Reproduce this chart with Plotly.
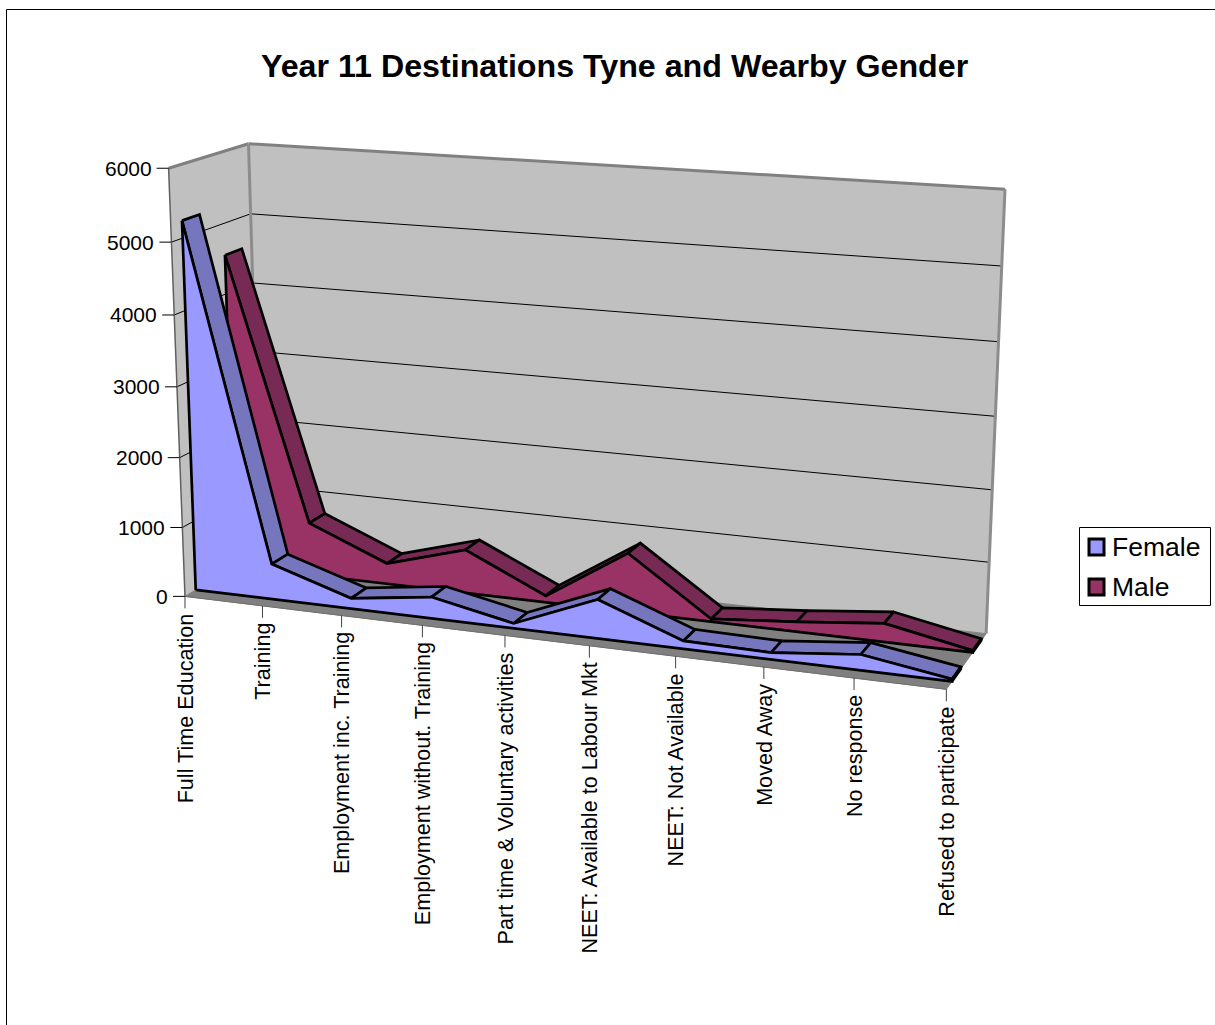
import numpy as np
import plotly.graph_objects as go

TITLE = "Year 11 Destinations Tyne and Wearby Gender"
categories = ["Full Time Education", "Training", "Employment inc. Training",
              "Employment without. Training", "Part time & Voluntary activities",
              "NEET: Available to Labour Mkt", "NEET: Not Available", "Moved Away",
              "No response", "Refused to participate"]
female = [5240, 510, 150, 305, 70, 545, 110, 95, 215, 30]
male = [4550, 770, 300, 630, 95, 840, 40, 140, 260, 25]
value_ticks = [0, 1000, 2000, 3000, 4000, 5000, 6000]
VMAX = 6000
FEMALE_DEPTH = (0.135, 0.35)
MALE_DEPTH = (0.65, 0.87)

# Projection of the chart box (category share, value share, depth) onto the page
box_ref = [
    (0, 0, 0, 186, 595), (0, 1, 0, 168, 170), (0, 1, 1, 249, 142), (0, 0, 1, 261, 556),
    (1, 1, 1, 1005, 190), (1, 0, 1, 986, 632), (1, 0, 0, 948, 691),
    (0, 5/6, 1, 251, 212), (1, 5/6, 1, 1002, 267), (1, 1/6, 1, 988, 560),
    (0, 5/6, 0, 171, 243), (0, 4/6, 0, 174, 315), (0, 3/6, 0, 177, 387),
    (0, 2/6, 0, 180, 457), (0, 1/6, 0, 183, 527),
    (1/9, 0, 0, 262, 604.6), (2/9, 0, 0, 341, 614.5), (3/9, 0, 0, 422, 624.7),
    (4/9, 0, 0, 504, 635), (5/9, 0, 0, 589, 645.6), (6/9, 0, 0, 675, 656.4),
    (7/9, 0, 0, 765, 667.7), (8/9, 0, 0, 854, 679),
]
A, b = [], []
for u, v, w, x, y in box_ref:
    A.append([u, v, w, 1, 0, 0, 0, 0, -x*u, -x*v, -x*w]); b.append(x)
    A.append([0, 0, 0, 0, u, v, w, 1, -y*u, -y*v, -y*w]); b.append(y)
P = np.append(np.linalg.lstsq(np.array(A, float), np.array(b, float), rcond=None)[0], 1).reshape(3, 4)


def proj(i, val, w):
    h = P @ np.array([i / 9, val / VMAX, w, 1.0])
    return h[0] / h[2], h[1] / h[2]


fig = go.Figure()


def poly(pts, fill, line="black", width=2.7):
    xs = [p[0] for p in pts] + [pts[0][0]]
    ys = [p[1] for p in pts] + [pts[0][1]]
    fig.add_trace(go.Scatter(x=xs, y=ys, mode="lines", fill="toself", fillcolor=fill,
                             line=dict(color=line, width=width), hoverinfo="skip", showlegend=False))


def seg(a, b, color, width=1):
    fig.add_trace(go.Scatter(x=[a[0], b[0]], y=[a[1], b[1]], mode="lines",
                             line=dict(color=color, width=width), hoverinfo="skip", showlegend=False))


WALL = "#C0C0C0"
# walls and floor
poly([proj(0, 0, 0), proj(0, VMAX, 0), proj(0, VMAX, 1), proj(0, 0, 1)], WALL, "rgba(0,0,0,0)", 0)
poly([proj(0, 0, 1), proj(0, VMAX, 1), proj(9, VMAX, 1), proj(9, 0, 1)], WALL, "rgba(0,0,0,0)", 0)
for t in value_ticks[1:-1]:
    seg(proj(0, t, 0), proj(0, t, 1), "black")
    seg(proj(0, t, 1), proj(9, t, 1), "black")
poly([proj(0, 0, 0), proj(0, 0, 1), proj(9, 0, 1), proj(9, 0, 0)], "#808080", "#808080", 1)
seg(proj(0, VMAX, 0), proj(0, VMAX, 1), "#808080", 3)
seg(proj(0, VMAX, 1), proj(9, VMAX, 1), "#808080", 3)
seg(proj(0, VMAX, 1), proj(0, 0, 1), "#8C8C8C", 3)
seg(proj(9, VMAX, 1), proj(9, 0, 1), "#8C8C8C", 3)
seg(proj(0, VMAX, 0), proj(0, 0, 0), "#606060", 1.5)
seg(proj(0, 0, 0), proj(9, 0, 0), "#707070", 1)


def series(vals, depth, face, top):
    wf, wb = depth
    n = len(vals)
    for i in range(n - 1):
        poly([proj(i, vals[i], wf), proj(i + 1, vals[i + 1], wf),
              proj(i + 1, vals[i + 1], wb), proj(i, vals[i], wb)], top)
    last = n - 1
    poly([proj(last, 0, wf), proj(last, vals[last], wf), proj(last, vals[last], wb), proj(last, 0, wb)], top)
    pts = [proj(0, 0, wf)] + [proj(i, vals[i], wf) for i in range(n)] + [proj(last, 0, wf)]
    poly(pts, face)


series(male, MALE_DEPTH, "#993366", "#772A54")
series(female, FEMALE_DEPTH, "#9999FF", "#7676BF")

annotations = []
FONT = "Liberation Sans, Arial, sans-serif"
for t in value_ticks:
    x, y = proj(0, t, 0)
    seg((x - 12, y), (x, y), "black", 1)
    annotations.append(dict(x=x - 15, y=y, text=str(t), showarrow=False, xanchor="right", yanchor="middle",
                            font=dict(family=FONT, size=21, color="black")))
for i, c in enumerate(categories):
    x, y = proj(i, 0, 0)
    seg((x, y), (x, y + 12), "#404040", 1)
    annotations.append(dict(x=x, y=y + 15, text=c, textangle=-90, showarrow=False, xanchor="center", yanchor="top",
                            font=dict(family=FONT, size=21.6, color="black")))
annotations.append(dict(x=615, y=66, text="<b>%s</b>" % TITLE, showarrow=False, xanchor="center", yanchor="middle",
                        font=dict(family=FONT, size=32.2, color="black")))
shapes = [
    dict(type="rect", x0=6.5, y0=9.5, x1=1230, y1=1040, line=dict(color="black", width=1), fillcolor="rgba(0,0,0,0)"),
    dict(type="rect", x0=1079.5, y0=527.5, x1=1210.5, y1=605.5, line=dict(color="black", width=1), fillcolor="white"),
    dict(type="rect", x0=1089, y0=539, x1=1104, y1=555, line=dict(color="black", width=3), fillcolor="#9999FF"),
    dict(type="rect", x0=1089, y0=579, x1=1104, y1=595, line=dict(color="black", width=3), fillcolor="#993366"),
]
for name, y in (("Female", 547), ("Male", 587)):
    annotations.append(dict(x=1110, y=y, text=name, showarrow=False, xanchor="left", yanchor="middle",
                            font=dict(family=FONT, size=26.5, color="black")))

fig.update_layout(width=1215, height=1025, margin=dict(l=0, r=0, t=0, b=0),
                  paper_bgcolor="white", plot_bgcolor="white", showlegend=False,
                  xaxis=dict(range=[0, 1215], visible=False, fixedrange=True),
                  yaxis=dict(range=[1025, 0], visible=False, fixedrange=True),
                  annotations=annotations, shapes=shapes)
fig.write_html("out.html", post_script="document.body.style.margin='0';", config=dict(displayModeBar=False))
